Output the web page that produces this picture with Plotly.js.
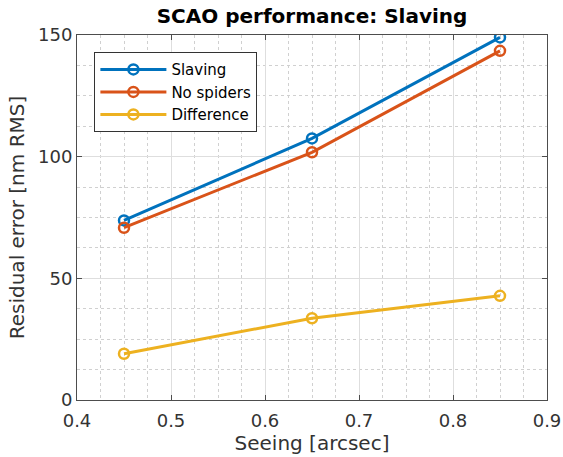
<!DOCTYPE html>
<html>
<head>
<meta charset="utf-8">
<script src="https://cdn.plot.ly/plotly-3.0.1.min.js"></script>
<style>
  html, body { margin: 0; padding: 0; background: #fff; }
  #chart { width: 563px; height: 457px; }
</style>
</head>
<body>
<div id="chart"></div>
<script>
// Seeing values (arcsec) and residual wavefront error (nm RMS)
const seeing = [0.45, 0.65, 0.85];
const slaving = [73.8, 107.5, 149.0];
const noSpiders = [70.8, 101.8, 143.5];
const difference = [19.0, 33.6, 42.8];

const seriesNames = ["Slaving", "No spiders", "Difference"];
const seriesColors = ["#0072BD", "#D95319", "#EDB120"];
const seriesValues = [slaving, noSpiders, difference];

const traces = seriesValues.map((vals, i) => ({
  x: seeing,
  y: vals,
  name: seriesNames[i],
  type: "scatter",
  mode: "lines+markers",
  line: { color: seriesColors[i], width: 3 },
  marker: {
    symbol: "circle-open",
    size: 10,
    color: seriesColors[i],
    line: { color: seriesColors[i], width: 2.5 }
  }
}));

const fontFamily = "DejaVu Sans, sans-serif";
const axisColor = "#333333";

const commonAxis = {
  showline: true,
  linecolor: "#4d4d4d",
  linewidth: 1,
  mirror: "ticks",
  ticks: "inside",
  ticklen: 5,
  tickcolor: "#4d4d4d",
  showgrid: true,
  gridcolor: "#dedede",
  gridwidth: 1,
  zeroline: false,
  tickfont: { family: fontFamily, size: 18, color: axisColor }
};

const layout = {
  width: 563,
  height: 457,
  margin: { l: 77, r: 16, t: 35, b: 57 },
  paper_bgcolor: "#ffffff",
  plot_bgcolor: "#ffffff",
  font: { family: fontFamily, color: axisColor },
  title: {
    text: "<b>SCAO performance: Slaving</b>",
    font: { family: fontFamily, size: 20, color: "#000000" },
    x: 0.5 + (77 - 16) / 2 / 563,
    xanchor: "center",
    y: 1 - 16 / 457,
    yanchor: "middle"
  },
  xaxis: Object.assign({}, commonAxis, {
    range: [0.4, 0.9],
    dtick: 0.1,
    tickformat: ".1f",
    ticklabelstandoff: 4,
    minor: { dtick: 0.025, showgrid: true, gridcolor: "#d0d0d0", griddash: "dot", gridwidth: 1 },
    title: { text: "Seeing [arcsec]", font: { family: fontFamily, size: 20, color: axisColor }, standoff: 0 }
  }),
  yaxis: Object.assign({}, commonAxis, {
    range: [0, 150],
    dtick: 50,
    minor: { dtick: 12.5, showgrid: true, gridcolor: "#d0d0d0", griddash: "dot", gridwidth: 1 },
    title: { text: "Residual error [nm RMS]", font: { family: fontFamily, size: 20, color: axisColor }, standoff: 8 }
  }),
  showlegend: true,
  legend: {
    x: 0.037,
    y: 0.953,
    xanchor: "left",
    yanchor: "top",
    bgcolor: "#ffffff",
    bordercolor: "#333333",
    borderwidth: 1,
    font: { family: fontFamily, size: 15, color: "#000000" },
    tracegroupgap: 0,
    itemwidth: 66
  }
};

Plotly.newPlot("chart", traces, layout, { displayModeBar: false, staticPlot: true });
</script>
</body>
</html>
